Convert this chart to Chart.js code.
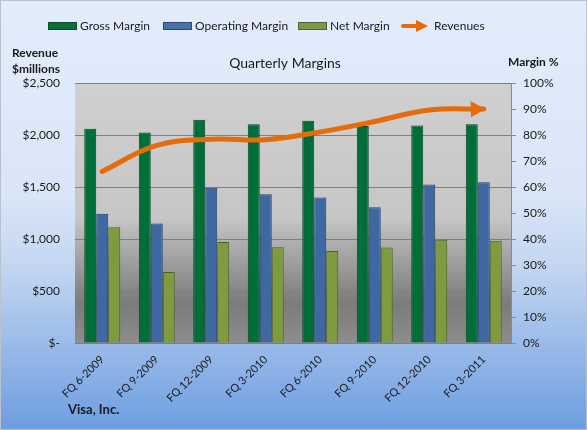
<!DOCTYPE html>
<html>
<head>
<meta charset="utf-8">
<script src="https://cdn.jsdelivr.net/npm/chart.js@4"></script>
<style>
  html, body { margin: 0; padding: 0; background: #fff; }
  #wrap { width: 587px; height: 430px; }
</style>
</head>
<body>
<div id="wrap"><canvas id="marginsChart" width="587" height="430"></canvas></div>
<script>
// ========== data ==========
const categories = ['FQ 6-2009', 'FQ 9-2009', 'FQ 12-2009', 'FQ 3-2010', 'FQ 6-2010', 'FQ 9-2010', 'FQ 12-2010', 'FQ 3-2011'];
const grossMargin = [82.4, 81.0, 85.9, 84.1, 85.5, 83.5, 83.7, 84.1];
const operatingMargin = [49.7, 46.0, 59.7, 57.2, 56.0, 52.2, 61.0, 61.8];
const netMargin = [44.5, 27.3, 38.8, 36.8, 35.4, 36.7, 39.7, 39.3];
const revenues = [1650, 1900, 1960, 1955, 2030, 2130, 2240, 2250];
const revenueTicks = [0, 500, 1000, 1500, 2000, 2500];
const marginTicks = [0, 10, 20, 30, 40, 50, 60, 70, 80, 90, 100];

const FONT = 'Lato, "Open Sans", sans-serif';
const ORANGE = '#e46c0a';

// ========== backgrounds ==========
const backgroundPlugin = {
  id: 'backgrounds',
  beforeDraw(chart) {
    const { ctx, width, height, chartArea: a } = chart;
    ctx.save();
    let g = ctx.createLinearGradient(0, 0, 0, height);
    g.addColorStop(0, '#e2ecfb');
    g.addColorStop(0.45, '#dae6f8');
    g.addColorStop(0.62, '#c3d6f1');
    g.addColorStop(1, '#6d9de0');
    ctx.fillStyle = g;
    ctx.fillRect(0, 0, width, height);
    ctx.strokeStyle = '#b9c3cf';
    ctx.lineWidth = 1;
    ctx.strokeRect(0.5, 0.5, width - 1, height - 1);

    g = ctx.createLinearGradient(0, a.top, 0, a.bottom);
    g.addColorStop(0, '#d0d0d0');
    g.addColorStop(0.52, '#c6c6c6');
    g.addColorStop(0.6, '#b2b2b2');
    g.addColorStop(0.85, '#7b7b7b');
    g.addColorStop(1, '#8e8e8e');
    ctx.fillStyle = g;
    ctx.fillRect(a.left, a.top, a.right - a.left, a.bottom - a.top);
    ctx.restore();
  }
};

// ========== titles + legend ==========
const textPlugin = {
  id: 'texts',
  afterDraw(chart) {
    const ctx = chart.ctx;
    ctx.save();
    ctx.fillStyle = '#1a1a1a';
    ctx.textBaseline = 'middle';

    ctx.font = 'bold 12px ' + FONT;
    ctx.textAlign = 'left';
    ctx.fillText('Revenue', 12, 53);
    ctx.fillText('$millions', 12, 69);
    ctx.fillText('Margin %', 508, 62);
    ctx.font = 'bold 13px ' + FONT;
    ctx.fillText('Visa, Inc.', 68, 410);

    ctx.font = '14px ' + FONT;
    ctx.textAlign = 'center';
    ctx.fillText('Quarterly Margins', 285, 63);

    // legend
    ctx.font = '12px ' + FONT;
    ctx.textAlign = 'left';
    const ly = 26;
    const items = [
      { x: 48, label: 'Gross Margin', fill: '#0c6e3b', edge: '#0a4a27' },
      { x: 163, label: 'Operating Margin', fill: '#4a72a8', edge: '#2c4a72' },
      { x: 298, label: 'Net Margin', fill: '#7b9748', edge: '#4f6330' }
    ];
    items.forEach(it => {
      ctx.fillStyle = it.fill;
      ctx.fillRect(it.x, ly - 3, 29, 6);
      ctx.strokeStyle = it.edge;
      ctx.lineWidth = 1;
      ctx.strokeRect(it.x + 0.5, ly - 3.5, 28, 7);
      ctx.fillStyle = '#1a1a1a';
      ctx.fillText(it.label, it.x + 32, ly);
    });
    // revenue arrow
    ctx.strokeStyle = ORANGE;
    ctx.fillStyle = ORANGE;
    ctx.lineWidth = 4;
    ctx.lineCap = 'round';
    ctx.beginPath();
    ctx.moveTo(403, ly);
    ctx.lineTo(418, ly);
    ctx.stroke();
    ctx.beginPath();
    ctx.moveTo(428, ly);
    ctx.lineTo(416, ly - 6);
    ctx.lineTo(416, ly + 6);
    ctx.closePath();
    ctx.fill();
    ctx.fillStyle = '#1a1a1a';
    ctx.fillText('Revenues', 434, ly);
    ctx.restore();
  }
};

// ========== arrowhead on revenue line ==========
const arrowPlugin = {
  id: 'arrowHead',
  afterDatasetsDraw(chart) {
    const meta = chart.getDatasetMeta(3);
    const pts = meta.data;
    const p = pts[pts.length - 1];
    const cx = p.cp1x !== undefined ? p.cp1x : pts[pts.length - 2].x;
    const cy = p.cp1y !== undefined ? p.cp1y : pts[pts.length - 2].y;
    const ang = Math.atan2(p.y - cy, p.x - cx);
    const ctx = chart.ctx;
    ctx.save();
    ctx.translate(p.x, p.y);
    ctx.rotate(ang);
    ctx.fillStyle = ORANGE;
    ctx.beginPath();
    ctx.moveTo(2, 0);
    ctx.lineTo(-13, -8);
    ctx.lineTo(-13, 8);
    ctx.closePath();
    ctx.fill();
    ctx.restore();
  }
};

const ctx = document.getElementById('marginsChart').getContext('2d');
const marginsChart = new Chart(ctx, {
  type: 'bar',
  data: {
    labels: categories,
    datasets: [
      {
        label: 'Gross Margin',
        data: grossMargin,
        yAxisID: 'y1',
        backgroundColor: '#006e38',
        borderColor: '#0a4425',
        borderWidth: 1,
        order: 1
      },
      {
        label: 'Operating Margin',
        data: operatingMargin,
        yAxisID: 'y1',
        backgroundColor: '#3d68a2',
        borderColor: '#233f66',
        borderWidth: 1,
        order: 1
      },
      {
        label: 'Net Margin',
        data: netMargin,
        yAxisID: 'y1',
        backgroundColor: '#7e9b3e',
        borderColor: '#4c5f26',
        borderWidth: 1,
        order: 1
      },
      {
        type: 'line',
        label: 'Revenues',
        data: revenues,
        yAxisID: 'y',
        borderColor: ORANGE,
        borderWidth: 5,
        borderCapStyle: 'round',
        tension: 0.4,
        pointRadius: 0,
        fill: false,
        order: 0
      }
    ]
  },
  options: {
    responsive: false,
    animation: false,
    devicePixelRatio: 1,
    layout: { padding: { top: 83, left: 0, right: 0, bottom: 0 } },
    plugins: {
      legend: { display: false },
      title: { display: false },
      tooltip: { enabled: false }
    },
    datasets: {
      bar: { categoryPercentage: 0.66, barPercentage: 1.0 }
    },
    scales: {
      x: {
        offset: true,
        grid: { display: false },
        border: { display: true, color: '#7f7f7f' },
        ticks: {
          color: '#1a1a1a',
          font: { family: FONT, size: 11 },
          maxRotation: 45,
          minRotation: 45,
          padding: 2
        },
        afterFit(s) { s.height = 87; }
      },
      y: {
        position: 'left',
        min: 0,
        max: 2500,
        afterBuildTicks(s) { s.ticks = revenueTicks.map(v => ({ value: v })); },
        grid: { color: '#808080', drawTicks: false },
        border: { display: false },
        ticks: {
          color: '#1a1a1a',
          font: { family: FONT, size: 12 },
          padding: 15,
          callback: v => v === 0 ? '$-' : '$' + v.toLocaleString('en-US')
        },
        afterFit(s) { s.width = 75; }
      },
      y1: {
        position: 'right',
        min: 0,
        max: 100,
        afterBuildTicks(s) { s.ticks = marginTicks.map(v => ({ value: v })); },
        grid: { drawOnChartArea: false, drawTicks: true, tickLength: 5, color: '#8a8a8a' },
        border: { display: true, color: '#8a8a8a' },
        ticks: {
          color: '#1a1a1a',
          font: { family: FONT, size: 12 },
          padding: 7,
          callback: v => v + '%'
        },
        afterFit(s) { s.width = 76; }
      }
    }
  },
  plugins: [backgroundPlugin, arrowPlugin, textPlugin]
});
</script>
</body>
</html>
